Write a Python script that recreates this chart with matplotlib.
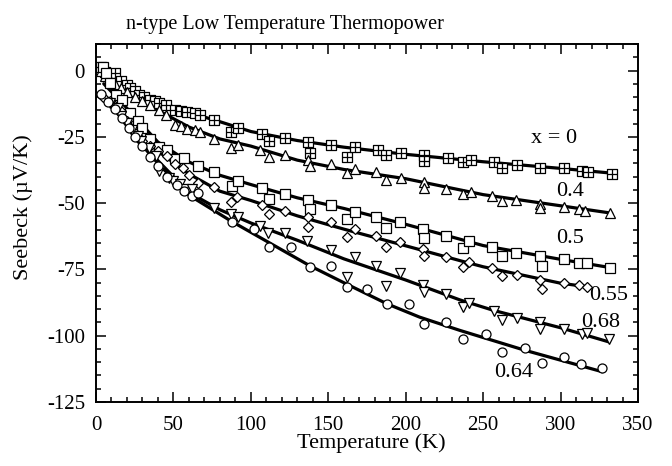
import numpy as np
import matplotlib
matplotlib.use('Agg')
import matplotlib.pyplot as plt
from matplotlib.path import Path
from matplotlib.ticker import MultipleLocator

plt.rcParams['font.family'] = ['Liberation Serif', 'DejaVu Serif']
plt.rcParams['font.size'] = 15
plt.rcParams['axes.unicode_minus'] = False

# measured points (T in K, S in uV/K)
T0 = [3, 6, 9, 12, 16, 20, 22, 25, 28, 31, 35, 38, 41, 45, 51, 55, 59, 64, 67, 76, 87, 92,
      107, 112, 122, 137, 138, 152, 162, 167, 182, 187, 197, 212, 212, 227, 237, 242, 257, 262,
      272, 287, 302, 314, 318, 333]
S0 = [1.5, -0.5, -1.6, -1.0, -4.1, -5.4, -6.6, -7.9, -9.1, -10.1, -11, -11.6, -12.3, -12.9,
      -14.8, -15.1, -15.6, -16, -16.6, -18.5, -23, -21.8, -24, -26.5, -25.4, -26.9, -31, -27.9,
      -32.7, -28.9, -30.1, -31.9, -31, -31.9, -34.2, -33.1, -34.5, -33.9, -34.4, -36.6, -35.6,
      -36.7, -36.9, -37.9, -38.2, -38.9]

T04 = [3, 6, 9, 12, 16, 20, 25, 30, 35, 41, 45, 51, 55, 59, 64, 67, 76, 87, 92, 106, 112, 122,
       137, 138, 152, 162, 167, 181, 187, 197, 212, 212, 226, 237, 242, 256, 262, 271, 287, 287,
       302, 312, 316, 332]
S04 = [0, -2, -3.5, -5, -6.5, -8, -10, -11.5, -13, -14.8, -16.6, -20.4, -21, -21.9, -22.6, -23.1,
       -25.8, -29.2, -27.9, -29.8, -32.7, -31.7, -33.9, -36, -35.2, -38.6, -37.3, -38.2, -41.3,
       -40.7, -42, -44.4, -44.5, -46.6, -45.8, -47.3, -49.3, -48.9, -50.2, -51.7, -51.4, -52.3,
       -52.9, -53.9]

T05 = [4.5, 6.6, 8.8, 13, 17, 22, 27, 30, 35, 41, 46, 51, 57, 66, 76, 88, 92, 107, 112, 122,
       137, 138, 152, 162, 167, 181, 187, 196, 211, 212, 226, 237, 241, 256, 262, 271, 287, 288,
       302, 312, 317, 332]
S05 = [1.5, -1, -4.8, -9.1, -11, -16, -19.1, -21.6, -26, -28.9, -29.8, -33.5, -32.9, -36, -38.2,
       -43.5, -41.7, -44.4, -48.5, -46.7, -48.9, -52.3, -50.8, -56.1, -53.2, -55.4, -59.2, -57.3,
       -59.8, -63.3, -62.3, -66.8, -64.2, -66.4, -69.8, -69, -69.9, -73.7, -71.2, -72.4, -72.7,
       -74.4]

T055 = [4.5, 8.8, 12, 16, 20, 22, 25, 27, 30, 35, 40, 46, 51, 56, 60, 66, 76, 87, 91, 107, 112,
        122, 137, 137, 152, 162, 167, 181, 187, 196, 211, 212, 226, 237, 241, 256, 262, 272, 287,
        288, 302, 312, 317]
S055 = [-9.8, -11.6, -13.5, -15.4, -19.1, -21.4, -23.5, -25.4, -26.6, -28.5, -30.4, -32.3, -35.4,
        -36.7, -39.5, -42.3, -43.9, -49.5, -47.7, -50.7, -54.2, -52.9, -55.2, -58.9, -57.3, -62.9,
        -59.8, -62.3, -66.7, -64.8, -67.3, -69.8, -70.2, -74.2, -72.3, -74.3, -77.4, -77, -79,
        -82.3, -80.2, -80.7, -81.5]

T068 = [9, 14, 16, 20, 23, 27, 29, 34, 39, 41, 47, 50, 54, 57, 62, 76, 87, 92, 106, 111, 122, 136,
        152, 162, 167, 181, 187, 196, 211, 212, 226, 237, 241, 257, 262, 272, 287, 287, 302, 314,
        317, 331]
S068 = [-12.3, -14.2, -17.3, -19.8, -22.3, -24.8, -26.7, -29.2, -32.3, -37.9, -40.4, -41.7, -42.9,
        -44.8, -44.8, -51.9, -54.2, -55.4, -58.6, -61.1, -61.1, -64.2, -67.6, -77.7, -70.5, -73.6,
        -81.1, -76.4, -81, -83.6, -84.3, -89, -87.7, -90.7, -94.2, -93.5, -94.8, -97.3, -97.3,
        -99.5, -99, -101.4]

T064 = [3, 8, 12, 17, 21, 25, 30, 35, 40, 46, 52, 57, 62, 66, 88, 102, 112, 126, 138, 152, 162,
        175, 188, 202, 212, 226, 237, 252, 262, 277, 288, 302, 313, 327]
S064 = [-9, -12, -14.5, -18, -21.5, -25, -28.5, -32.5, -36, -40, -43, -45.5, -47.3, -46, -57,
        -59.8, -66.4, -66.4, -74.2, -73.8, -81.7, -82.3, -88.2, -87.9, -95.6, -94.9, -101.1, -99.5,
        -106.3, -104.8, -110.2, -108.2, -110.5, -112]

# fit curves
LT = [5, 15, 25, 40, 60, 80, 100, 130, 160, 200, 250, 300, 333]
L0 = [-1, -4, -7.6, -11.6, -15.8, -19.3, -23, -26.4, -28.9, -31.6, -34.4, -36.9, -38.7]
L04 = [-2, -6.5, -10.5, -15, -21.3, -25.8, -28.5, -33.8, -37.3, -40.8, -46.8, -51, -53.8]
L05 = [-5, -11, -17.5, -27, -34.5, -39.5, -43, -48, -52, -58, -66, -71.2, -74.4]
LT055 = [4, 15, 25, 40, 60, 80, 100, 130, 160, 200, 237, 250, 300, 318]
L055 = [-9.5, -15, -22.5, -30.4, -39, -45.5, -49, -54.8, -59.8, -66.1, -72, -74, -80.2, -81.6]
LT068 = [5, 15, 25, 40, 60, 80, 100, 130, 160, 200, 235, 257, 300, 331]
L068 = [-10, -16.5, -24, -34, -46, -52.5, -57.5, -64, -71, -79, -86.5, -90.5, -97, -102.3]
LT064 = [5, 15, 25, 40, 60, 87, 100, 138, 160, 188, 209, 235, 277, 327]
L064 = [-10, -17, -25, -35, -47, -56.7, -61, -73.6, -80, -88, -93, -98, -105.5, -113.6]

labels = ['x = 0', '0.4', '0.5', '0.55', '0.68', '0.64']
label_pos = [(296, -25.5), (306, -45.6), (306, -63.2), (331, -84.8), (326, -94.9), (270, -114)]

# square with a plus inside
boxplus = Path([(-1, -1), (1, -1), (1, 1), (-1, 1), (-1, -1), (0, -1), (0, 1), (-1, 0), (1, 0)],
               [Path.MOVETO, Path.LINETO, Path.LINETO, Path.LINETO, Path.CLOSEPOLY,
                Path.MOVETO, Path.LINETO, Path.MOVETO, Path.LINETO])

fig = plt.figure(figsize=(6.72, 4.66), dpi=100)
ax = fig.add_axes([96 / 672, 1 - 402 / 466, 542 / 672, 358 / 466])

for lt, ls in [(LT, L0), (LT, L04), (LT, L05), (LT055, L055), (LT068, L068), (LT064, L064)]:
    ax.plot(lt, ls, color='black', lw=2.3, zorder=2, solid_capstyle='round')

mk = dict(ls='none', mfc='white', mec='black', mew=0.9, zorder=3)
ax.plot(T0, S0, marker=boxplus, ms=7, **mk)
ax.plot(T04, S04, marker='^', ms=7.5, **mk)
ax.plot(T05, S05, marker='s', ms=7, **mk)
ax.plot(T055, S055, marker='D', ms=5, **mk)
ax.plot(T068, S068, marker='v', ms=7.5, **mk)
ax.plot(T064, S064, marker='o', ms=6.5, **mk)

for txt, (tx, ty) in zip(labels, label_pos):
    ax.text(tx, ty, txt, ha='center', va='center', fontsize=16, zorder=4)

ax.set_xlim(0, 350)
ax.set_ylim(-125, 10)
ax.xaxis.set_major_locator(MultipleLocator(50))
ax.xaxis.set_minor_locator(MultipleLocator(10))
ax.yaxis.set_major_locator(MultipleLocator(25))
ax.yaxis.set_minor_locator(MultipleLocator(5))
ax.tick_params(which='both', direction='in', top=True, right=True, width=1.1)
ax.tick_params(which='major', length=7, labelsize=15)
ax.tick_params(axis='x', which='major', pad=10)
ax.tick_params(axis='y', which='major', pad=8)
ax.tick_params(which='minor', length=3.5)
for sp in ax.spines.values():
    sp.set_linewidth(1.4)

fig.text(285 / 672, 1 - 24 / 466, 'n-type Low Temperature Thermopower', ha='center', va='center', fontsize=14.5)
fig.text(371 / 672, 1 - 443 / 466, 'Temperature (K)', ha='center', va='center', fontsize=16)
fig.text(23 / 672, 1 - 207 / 466, 'Seebeck (µV/K)', ha='center', va='center', rotation=90, fontsize=16)

fig.savefig('out.png', dpi=100)
